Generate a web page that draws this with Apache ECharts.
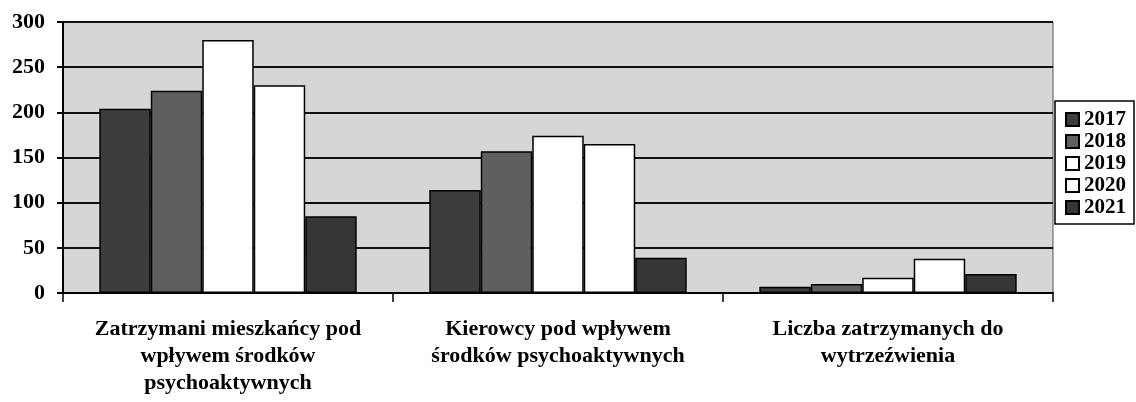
<!DOCTYPE html>
<html>
<head>
<meta charset="utf-8">
<script src="https://cdn.jsdelivr.net/npm/echarts@6/dist/echarts.min.js"></script>
<style>
  html, body { margin: 0; padding: 0; background: #fff; }
  #chart { width: 1136px; height: 402px; }
</style>
</head>
<body>
<div id="chart"></div>
<script>
// kategorie i dane
const categories = [
  'Zatrzymani mieszkańcy pod\nwpływem środków\npsychoaktywnych',
  'Kierowcy pod wpływem\nśrodków psychoaktywnych',
  'Liczba zatrzymanych do\nwytrzeźwienia'
]
const years = ['2017', '2018', '2019', '2020', '2021']
const v2017 = [204, 114, 7]
const v2018 = [224, 157, 10]
const v2019 = [280, 174, 17]
const v2020 = [230, 165, 38]
const v2021 = [85, 39, 21]
const yTicks = [0, 50, 100, 150, 200, 250, 300]

const values = [v2017, v2018, v2019, v2020, v2021]
const colors = ['#3d3d3d', '#5f5f5f', '#ffffff', '#ffffff', '#363636']
const font = "'Liberation Serif', 'DejaVu Serif', serif"

const chart = echarts.init(document.getElementById('chart'))

const option = {
  backgroundColor: '#fff',
  animation: false,
  grid: {
    left: 63, right: 83, top: 22, bottom: 109,
    show: true,
    backgroundColor: '#d6d6d6',
    borderColor: '#555',
    borderWidth: 1
  },
  legend: {
    data: years,
    orient: 'vertical',
    left: 1055,
    top: 101,
    padding: [8, 8, 6, 10],
    itemGap: 1,
    itemWidth: 13,
    itemHeight: 13,
    icon: 'rect',
    borderColor: '#000',
    borderWidth: 1.5,
    backgroundColor: '#fff',
    textStyle: { fontFamily: font, fontWeight: 'bold', fontSize: 21, lineHeight: 21, color: '#000' }
  },
  xAxis: {
    type: 'category',
    data: categories,
    axisLine: { lineStyle: { color: '#000', width: 2 } },
    axisTick: { show: true, length: 9, lineStyle: { color: '#000', width: 1.5 } },
    axisLabel: {
      interval: 0,
      margin: 23,
      fontFamily: font,
      fontWeight: 'bold',
      fontSize: 22,
      lineHeight: 27,
      color: '#000'
    }
  },
  yAxis: {
    type: 'value',
    min: yTicks[0],
    max: yTicks[yTicks.length - 1],
    interval: 50,
    axisLine: { show: true, lineStyle: { color: '#000', width: 2 } },
    axisTick: { show: true, length: 6, lineStyle: { color: '#000', width: 2 } },
    splitLine: { lineStyle: { color: '#111', width: 2 } },
    axisLabel: {
      margin: 18,
      fontFamily: font,
      fontWeight: 'bold',
      fontSize: 22,
      color: '#000'
    }
  },
  series: years.map((y, i) => ({
    name: y,
    type: 'bar',
    data: values[i],
    barGap: '0%',
    barCategoryGap: '22%',
    itemStyle: { color: colors[i], borderColor: '#000', borderWidth: 1.5 }
  }))
}

chart.setOption(option)
</script>
</body>
</html>
